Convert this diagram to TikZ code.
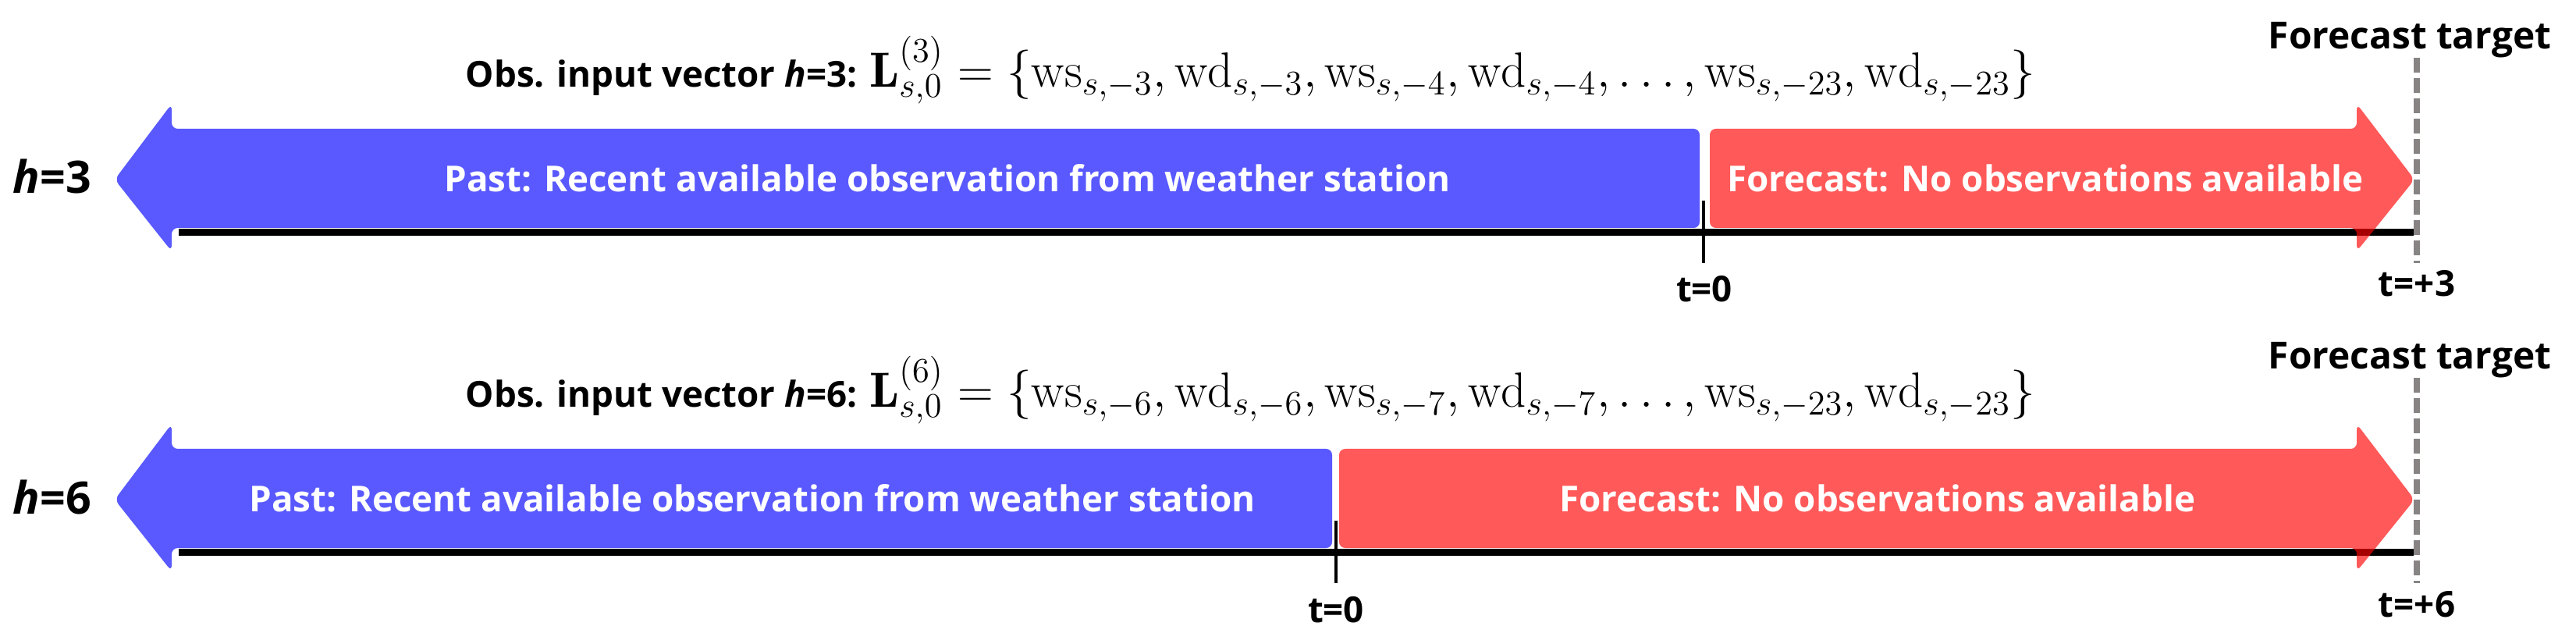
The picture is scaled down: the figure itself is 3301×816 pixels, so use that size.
\RequirePackage{fix-cm}
\documentclass[tikz,border=0pt]{standalone}
\usepackage{fontspec}
\newfontfamily\osans{Open Sans}
\definecolor{targetgray}{RGB}{136,132,132}
\begin{document}
\begin{tikzpicture}[x=0.01cm,y=-0.01cm,
  lbl/.style={font=\osans\bfseries\fontsize{13pt}{15pt}\selectfont, inner sep=0pt, anchor=base},
  wlbl/.style={lbl, text=white},
  ftlbl/.style={lbl, font=\osans\bfseries\fontsize{13.6pt}{15pt}\selectfont},
  hlbl/.style={font=\osans\bfseries\fontsize{16.3pt}{18pt}\selectfont, inner sep=0pt, anchor=base},
  obs/.style={font=\osans\bfseries\fontsize{13pt}{15pt}\selectfont, inner sep=0pt, anchor=base west},
  axisline/.style={line width=2.56pt, black},
  tickline/.style={line width=1.1pt, black},
  targetline/.style={line width=2.2pt, targetgray, dash pattern=on 5.4pt off 2pt},
  pastarrow/.style={fill=blue, fill opacity=0.65, rounded corners=2.2pt},
  futarrow/.style={fill=red, fill opacity=0.65, rounded corners=2.2pt},
]
\useasboundingbox (0,0) rectangle (3301,816);
\newcommand{\mathbig}[1]{{\fontsize{18pt}{20pt}\selectfont$#1$}}

% ---------- row h=3 ----------
\coordinate (axAs) at (229,297.5);
\coordinate (axAe) at (3093,297.5);
\coordinate (tkAt) at (2183,257);
\coordinate (tkAb) at (2183,337);
\coordinate (tgAt) at (3097,74);
\coordinate (tgAb) at (3097,337);
\draw[axisline] (axAs) -- (axAe);
\draw[tickline] (tkAt) -- (tkAb);
\draw[targetline] (tgAt) -- (tgAb);
\path[pastarrow] (2178,165) -- (220,165) -- (220,133) -- (147,230) -- (220,322) -- (220,292) -- (2178,292) -- cycle;
\path[futarrow] (2191,165) -- (3020,165) -- (3020,133) -- (3094,230) -- (3020,322) -- (3020,292) -- (2191,292) -- cycle;
\node[hlbl] (hA) at (67,248) {\textit{h}=3};
\node[wlbl] (pastA) at (1214,246) {Past: Recent available observation from weather station};
\node[wlbl] (futA) at (2621,246) {Forecast: No observations available};
\node[lbl] (t0A) at (2184,387) {t=0};
\node[lbl] (tpA) at (3097,380) {t=+3};
\node[ftlbl] (ftA) at (3088,63) {Forecast target};
\node[obs] (obsA) at (596,112) {Obs. input vector \textit{h}=3: \mathbig{\mathbf{L}^{(3)}_{s,0}=\{\mathrm{ws}_{s,-3},\mathrm{wd}_{s,-3},\mathrm{ws}_{s,-4},\mathrm{wd}_{s,-4},\ldots,\mathrm{ws}_{s,-23},\mathrm{wd}_{s,-23}\}}};

% ---------- row h=6 ----------
\coordinate (axBs) at (229,707.5);
\coordinate (axBe) at (3093,707.5);
\coordinate (tkBt) at (1712,667);
\coordinate (tkBb) at (1712,747);
\coordinate (tgBt) at (3097,484);
\coordinate (tgBb) at (3097,747);
\draw[axisline] (axBs) -- (axBe);
\draw[tickline] (tkBt) -- (tkBb);
\draw[targetline] (tgBt) -- (tgBb);
\path[pastarrow] (1707,575) -- (220,575) -- (220,543) -- (147,640) -- (220,732) -- (220,702) -- (1707,702) -- cycle;
\path[futarrow] (1716,575) -- (3020,575) -- (3020,543) -- (3094,640) -- (3020,732) -- (3020,702) -- (1716,702) -- cycle;
\node[hlbl] (hB) at (67,658) {\textit{h}=6};
\node[wlbl] (pastB) at (964,656) {Past: Recent available observation from weather station};
\node[wlbl] (futB) at (2406,656) {Forecast: No observations available};
\node[lbl] (t0B) at (1712,797) {t=0};
\node[lbl] (tpB) at (3097,790) {t=+6};
\node[ftlbl] (ftB) at (3088,473) {Forecast target};
\node[obs] (obsB) at (596,522) {Obs. input vector \textit{h}=6: \mathbig{\mathbf{L}^{(6)}_{s,0}=\{\mathrm{ws}_{s,-6},\mathrm{wd}_{s,-6},\mathrm{ws}_{s,-7},\mathrm{wd}_{s,-7},\ldots,\mathrm{ws}_{s,-23},\mathrm{wd}_{s,-23}\}}};
\end{tikzpicture}
\end{document}
